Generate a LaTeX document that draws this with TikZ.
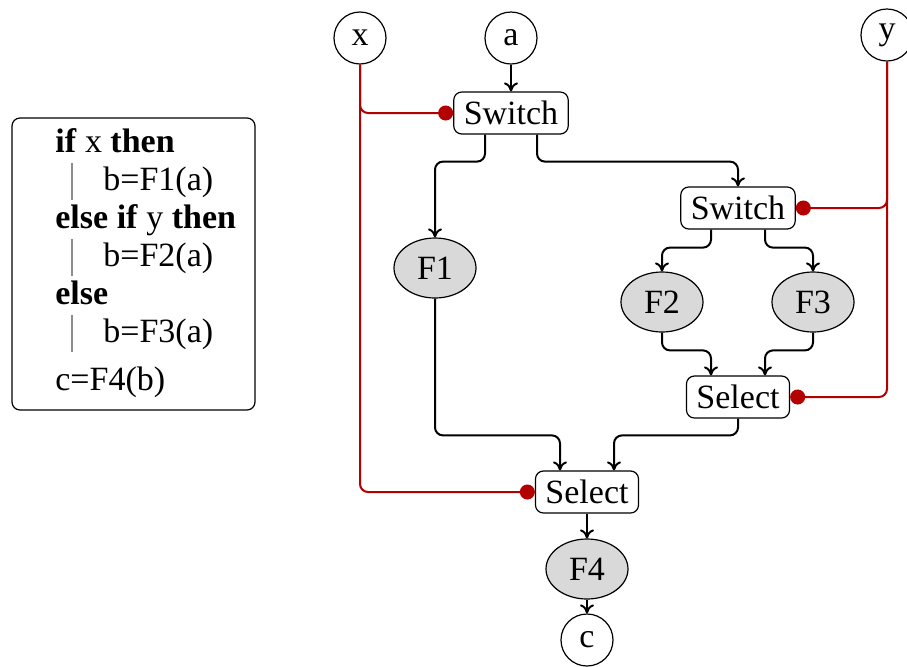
\documentclass[tikz,border=0pt]{standalone}
\usepackage{fontspec}
\setmainfont{Liberation Serif}
\usepackage{xcolor}
\usetikzlibrary{positioning,calc,arrows.meta,shapes.geometric}
\definecolor{ctrlRed}{HTML}{B30000}
\definecolor{funcFill}{HTML}{D9D9D9}

\begin{document}
\begin{tikzpicture}[x=0.5pt, y=-0.5pt,
  font=\fontsize{17}{20}\selectfont,
  port/.style={draw, circle, minimum size=26pt, inner sep=0pt, line width=0.6pt},
  gate/.style={draw, rounded corners=4pt, minimum height=21pt, inner xsep=5pt, inner ysep=0pt, line width=0.6pt},
  func/.style={draw, ellipse, fill=funcFill, minimum width=41pt, minimum height=30pt, inner sep=0pt, line width=0.6pt},
  arr/.style={-{Computer Modern Rightarrow[length=4.5pt,width=7pt]}, line width=1pt, rounded corners=4pt},
  ctrl/.style={-{Circle[length=7.5pt]}, ctrlRed, line width=1pt, rounded corners=4pt},
  code/.style={anchor=base west, inner sep=0pt},
  bar/.style={draw=black!45, line width=0.6pt},
]
  \useasboundingbox (0,0) rectangle (907,666);

  % pseudo code
  \node[code] (l1) at (55,152) {\textbf{if} x \textbf{then}};
  \node[code] (l2) at (103,190) {b=F1(a)};
  \node[code] (l3) at (55,228) {\textbf{else if} y \textbf{then}};
  \node[code] (l4) at (103,266) {b=F2(a)};
  \node[code] (l5) at (55,304) {\textbf{else}};
  \node[code] (l6) at (103,342) {b=F3(a)};
  \node[code] (l7) at (55,390) {c=F4(b)};
  \foreach \l in {l2,l4,l6}
    \draw[bar] ([xshift=-15.5pt,yshift=13.5pt]\l.base west) -- ([xshift=-15.5pt,yshift=-5pt]\l.base west);
  \draw[rounded corners=4pt, line width=0.6pt] (12,118) rectangle (255,410);

  % dataflow graph
  \node[port] (x) at (360,38) {x};
  \node[port] (a) at (511,38) {a};
  \node[port] (y) at (887,35) {y};
  \node[gate] (sw1) at (511,113) {Switch};
  \node[gate] (sw2) at (738,208) {Switch};
  \node[func] (f1) at (435,268) {F1};
  \node[func] (f2) at (662,302) {F2};
  \node[func] (f3) at (813,302) {F3};
  \node[gate] (sel2) at (738,397) {Select};
  \node[gate] (sel1) at (587,492) {Select};
  \node[func] (f4) at (587,569) {F4};
  \node[port] (c) at (587,640) {c};

  \draw[arr] (a) -- (sw1);
  \draw[arr] ([xshift=-13pt]sw1.south) -- ++(0,27) -| (f1);
  \draw[arr] ([xshift=13pt]sw1.south) -- ++(0,27) -| (sw2);
  \draw[arr] ([xshift=-13.5pt]sw2.south) -- ++(0,18) -| (f2);
  \draw[arr] ([xshift=13.5pt]sw2.south) -- ++(0,18) -| (f3);
  \draw[arr] (f2) |- ([xshift=-13.5pt,yshift=12.5pt]sel2.north) -- ([xshift=-13.5pt]sel2.north);
  \draw[arr] (f3) |- ([xshift=13.5pt,yshift=12.5pt]sel2.north) -- ([xshift=13.5pt]sel2.north);
  \draw[arr] (f1) |- ([xshift=-13.5pt,yshift=17.5pt]sel1.north) -- ([xshift=-13.5pt]sel1.north);
  \draw[arr] (sel2) |- ([xshift=13.5pt,yshift=17.5pt]sel1.north) -- ([xshift=13.5pt]sel1.north);
  \draw[arr] (sel1) -- (f4);
  \draw[arr] (f4) -- (c);

  % control inputs
  \draw[ctrl] (x) |- (sw1);
  \draw[ctrl] (x) |- (sel1);
  \draw[ctrl] (y) |- (sw2);
  \draw[ctrl] (y) |- (sel2);
\end{tikzpicture}
\end{document}
